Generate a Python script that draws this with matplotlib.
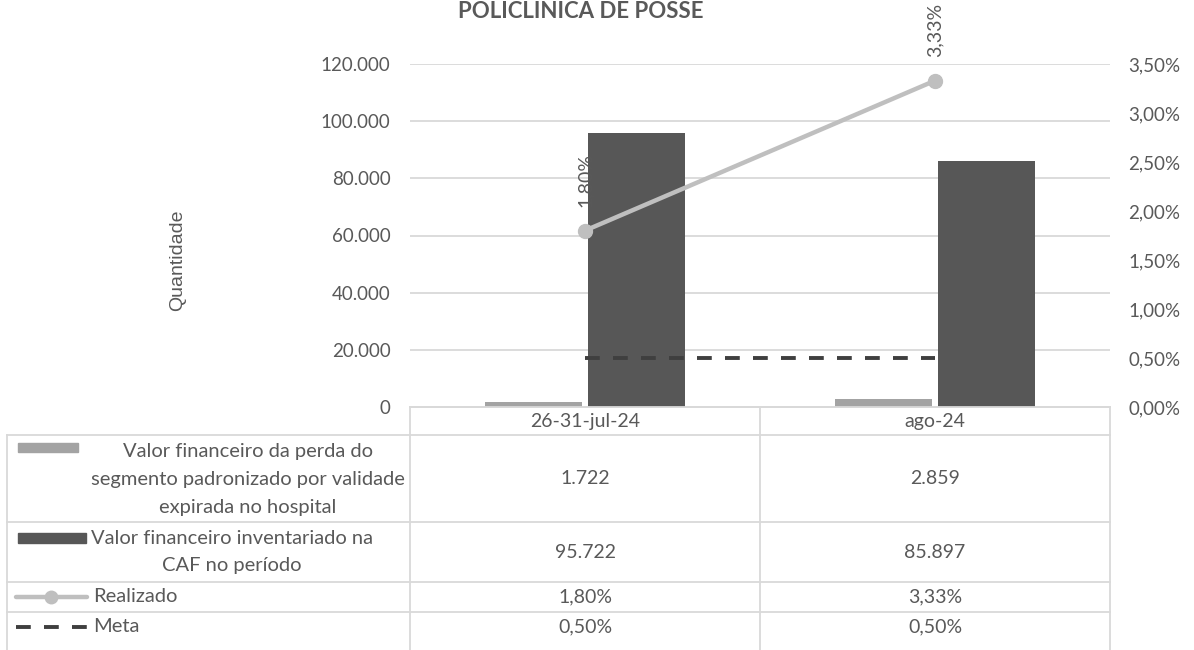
import numpy as np
import matplotlib.pyplot as plt
from matplotlib.patches import Rectangle

categorias = ['26-31-jul-24', 'ago-24']
perda = [1722, 2859]
inventariado = [95722, 85897]
realizado = [0.0180, 0.0333]
meta = [0.005, 0.005]

nomes = ['Valor financeiro da perda do\nsegmento padronizado por validade\nexpirada no hospital',
         'Valor financeiro inventariado na\nCAF no período',
         'Realizado',
         'Meta']

cor_claro = '#a3a3a3'
cor_escuro = '#575757'
cor_linha = '#bfbfbf'
cor_meta = '#3f3f3f'
cor_txt = '#595959'
cor_grade = '#d9d9d9'

def fmt_int(v):
    return f'{v:,.0f}'.replace(',', '.')

def fmt_pct(v):
    return f'{v*100:.2f}%'.replace('.', ',')

plt.rcParams['font.family'] = ['Lato', 'DejaVu Sans']
plt.rcParams['text.color'] = cor_txt

W, H = 1194, 650
fig = plt.figure(figsize=(W/100, H/100), dpi=100)

# area do grafico em pixels
x0, x1, yb, yt = 410, 1110, 407, 64
ax = fig.add_axes([x0/W, 1-yb/H, (x1-x0)/W, (yb-yt)/H])
ax2 = ax.twinx()

x = np.arange(len(categorias))
w = 0.277
ax.bar(x - 0.148, perda, w, color=cor_claro, zorder=2)
ax.bar(x + 0.148, inventariado, w, color=cor_escuro, zorder=2)
ax.set_xlim(-0.5, len(categorias) - 0.5)
ax.set_ylim(0, 120000)
ax.set_yticks(np.arange(0, 120001, 20000))
ax.set_yticklabels([fmt_int(v) for v in np.arange(0, 120001, 20000)])
ax.yaxis.grid(True, color=cor_grade, lw=1.3, zorder=0)
ax.set_axisbelow(True)
ax.set_xticks([])
for s in ['top', 'left', 'right']:
    ax.spines[s].set_visible(False)
ax.spines['bottom'].set_color(cor_grade)
ax.spines['bottom'].set_linewidth(1.3)
ax.tick_params(axis='y', length=0, pad=14, labelsize=13.5, labelcolor=cor_txt)

ax2.plot(x, meta, color=cor_meta, lw=2.8, dashes=(3.8, 3.4), zorder=3)
ax2.plot(x, realizado, color=cor_linha, lw=3.2, marker='o', ms=10, zorder=4)
for xi, v in zip(x, realizado):
    ax2.annotate(fmt_pct(v), (xi, v), xytext=(0, 17), textcoords='offset points',
                 rotation=90, ha='center', va='bottom', fontsize=14, color=cor_txt,
                 annotation_clip=False)
ax2.set_ylim(0, 0.035)
pt = np.arange(0, 0.03501, 0.005)
ax2.set_yticks(pt)
ax2.set_yticklabels([fmt_pct(v) for v in pt])
for s in ['top', 'left', 'right', 'bottom']:
    ax2.spines[s].set_visible(False)
ax2.tick_params(axis='y', length=0, pad=13, labelsize=13.5, labelcolor=cor_txt)

fig.text(178/W, 1-260/H, 'Quantidade', rotation=90, ha='center', va='center',
         fontsize=14, family=['Liberation Sans'], color=cor_txt)
fig.text(581/W, 1-18/H, 'POLICLÍNICA DE POSSE', ha='center', va='baseline',
         fontsize=16, fontweight='bold', color=cor_txt)

# tabela de dados (coordenadas em pixels)
tb = fig.add_axes([0, 0, 1, 1], zorder=-1)
tb.set_xlim(0, W)
tb.set_ylim(H, 0)
tb.axis('off')

linhas = [407, 435, 522, 582, 612, 650]
esq = 7
cw = (x1 - x0) / len(categorias)
centros = [x0 + (i + 0.5) * cw for i in range(len(categorias))]
# centro vertical do texto em cada linha da tabela
meio = [(linhas[i] + linhas[i + 1]) / 2 for i in range(len(linhas) - 1)]
meio[-1] = linhas[-2] + 15

lk = dict(color=cor_grade, lw=1.3)
tb.plot([x0, x1], [linhas[0], linhas[0]], **lk)
for yy in linhas[1:-1]:
    tb.plot([esq, x1], [yy, yy], **lk)
for xx in [x0 + i * cw for i in range(len(categorias) + 1)]:
    tb.plot([xx, xx], [linhas[0], linhas[-1]], **lk)
tb.plot([esq, esq], [linhas[1], linhas[-1]], **lk)

for c, nome in zip(centros, categorias):
    tb.text(c, meio[0], nome, ha='center', va='center', fontsize=14)

series = [perda, inventariado, realizado, meta]
fmts = [fmt_int, fmt_int, fmt_pct, fmt_pct]
for r, (serie, f) in enumerate(zip(series, fmts)):
    for c, v in zip(centros, serie):
        tb.text(c, meio[r + 1], f(v), ha='center', va='center', fontsize=14)

# rotulos das series com chave de legenda
tb.text(91, meio[1] + 1, nomes[0], ha='left', va='center',
        fontsize=14.5, linespacing=1.75, multialignment='center')
tb.add_patch(Rectangle((18, 443), 60, 9, color=cor_claro))
tb.text(91, meio[2], nomes[1], ha='left', va='center',
        fontsize=14.5, linespacing=1.75, multialignment='center')
tb.add_patch(Rectangle((18, 533), 68, 10, color=cor_escuro))
tb.plot([16, 87], [meio[3], meio[3]], color=cor_linha, lw=3.2, solid_capstyle='round')
tb.plot([51], [meio[3]], 'o', color=cor_linha, ms=9)
tb.text(93, meio[3], nomes[2], ha='left', va='center', fontsize=14.5)
tb.plot([16, 89], [meio[4], meio[4]], color=cor_meta, lw=2.8, dashes=(3.8, 3.4))
tb.text(93, meio[4], nomes[3], ha='left', va='center', fontsize=14.5)

fig.savefig('out.png', dpi=100)
